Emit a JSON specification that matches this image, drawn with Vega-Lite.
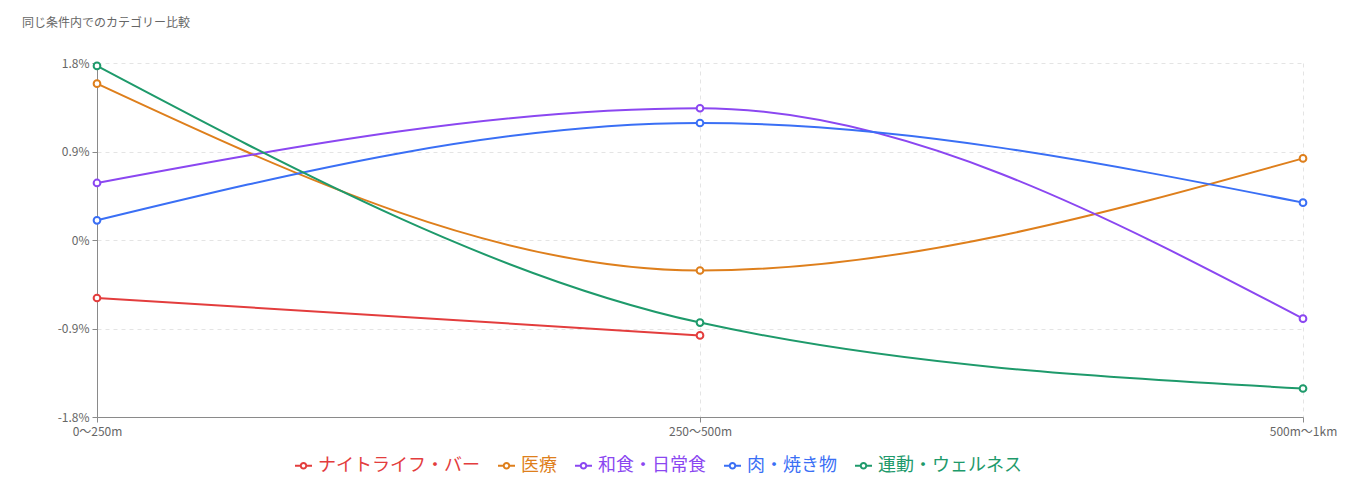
{
  "$schema": "https://vega.github.io/schema/vega-lite/v6.json",
  "autosize": "none",
  "width": 1206,
  "height": 354,
  "padding": {"left": 97, "top": 63, "right": 49, "bottom": 85},
  "title": {
    "text": "同じ条件内でのカテゴリー比較",
    "anchor": "start",
    "frame": "group",
    "dx": -75,
    "offset": 27,
    "fontSize": 12,
    "fontWeight": "normal",
    "color": "#666666",
    "font": "Noto Sans CJK JP"
  },
  "config": {
    "view": {"stroke": null},
    "font": "Noto Sans CJK JP"
  },
  "data": {
    "values": [
      {"dist": "0〜250m", "cat": "ナイトライフ・バー", "v": -0.59},
      {"dist": "250〜500m", "cat": "ナイトライフ・バー", "v": -0.97},
      {"dist": "0〜250m", "cat": "医療", "v": 1.59},
      {"dist": "250〜500m", "cat": "医療", "v": -0.31},
      {"dist": "500m〜1km", "cat": "医療", "v": 0.83},
      {"dist": "0〜250m", "cat": "和食・日常食", "v": 0.58},
      {"dist": "250〜500m", "cat": "和食・日常食", "v": 1.34},
      {"dist": "500m〜1km", "cat": "和食・日常食", "v": -0.8},
      {"dist": "0〜250m", "cat": "肉・焼き物", "v": 0.2},
      {"dist": "250〜500m", "cat": "肉・焼き物", "v": 1.19},
      {"dist": "500m〜1km", "cat": "肉・焼き物", "v": 0.38},
      {"dist": "0〜250m", "cat": "運動・ウェルネス", "v": 1.77},
      {"dist": "250〜500m", "cat": "運動・ウェルネス", "v": -0.84},
      {"dist": "500m〜1km", "cat": "運動・ウェルネス", "v": -1.51}
    ]
  },
  "encoding": {
    "x": {
      "field": "dist",
      "type": "ordinal",
      "sort": ["0〜250m", "250〜500m", "500m〜1km"],
      "scale": {"type": "point", "padding": 0},
      "axis": {
        "title": null,
        "labelAngle": 0,
        "labelFontSize": 12,
        "labelColor": "#666666",
        "labelPadding": 4,
        "domainColor": "#8a8a8a",
        "tickColor": "#8a8a8a",
        "tickSize": 5,
        "grid": true,
        "gridColor": "#e4e4e4",
        "gridDash": [4, 4]
      }
    },
    "y": {
      "field": "v",
      "type": "quantitative",
      "scale": {"domain": [-1.8, 1.8], "nice": false, "zero": false},
      "axis": {
        "title": null,
        "values": [-1.8, -0.9, 0, 0.9, 1.8],
        "labelExpr": "datum.value + '%'",
        "labelFontSize": 12,
        "labelColor": "#666666",
        "labelPadding": 3,
        "domain": true,
        "domainColor": "#8a8a8a",
        "tickColor": "#8a8a8a",
        "tickSize": 5,
        "grid": true,
        "gridColor": "#e4e4e4",
        "gridDash": [4, 4]
      }
    },
    "color": {
      "field": "cat",
      "type": "nominal",
      "scale": {
        "domain": ["ナイトライフ・バー", "医療", "和食・日常食", "肉・焼き物", "運動・ウェルネス"],
        "range": ["#e33d3d", "#de7f1c", "#8b47f1", "#3a6ff5", "#1e9a6b"]
      },
      "legend": {
        "title": null,
        "orient": "none",
        "direction": "horizontal",
        "legendX": 197,
        "legendY": 393,
        "labelFontSize": 18,
        "labelLimit": 400,
        "labelOffset": 5,
        "columnPadding": 14,
        "symbolType": "M-1,0L-0.32,0M0.32,0L1,0M-0.32,0A0.32,0.32 0 1,1 0.32,0A0.32,0.32 0 1,1 -0.32,0",
        "symbolSize": 289,
        "symbolStrokeWidth": 2,
        "symbolFillColor": "#ffffff",
        "encode": {
          "labels": {"update": {"fill": {"scale": "color", "field": "value"}}},
          "symbols": {"update": {"stroke": {"scale": "color", "field": "value"}, "fill": {"value": "#ffffff"}}}
        }
      }
    }
  },
  "layer": [
    {
      "mark": {"type": "line", "interpolate": "monotone", "strokeWidth": 2}
    },
    {
      "mark": {"type": "point", "filled": false, "fill": "#ffffff", "fillOpacity": 1, "size": 45, "strokeWidth": 2, "opacity": 1}
    }
  ]
}
